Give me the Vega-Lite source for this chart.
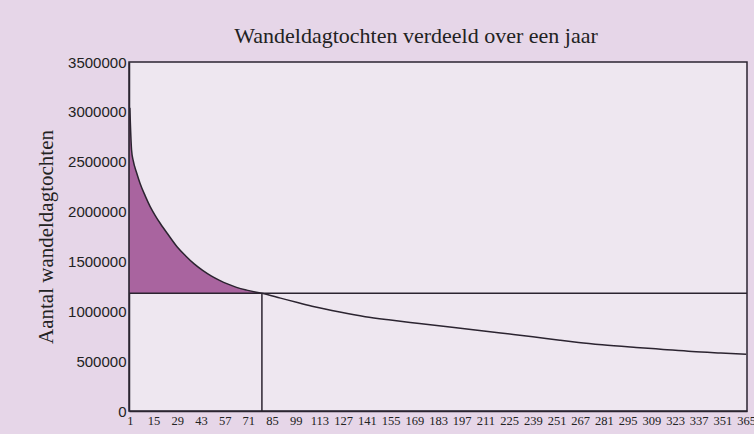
{
  "$schema": "https://vega.github.io/schema/vega-lite/v6.json",
  "width": 618,
  "height": 349,
  "autosize": {"type": "none"},
  "padding": {"left": 129, "top": 62, "right": 7, "bottom": 23},
  "background": "#e6d6e8",
  "title": {
    "text": "Wandeldagtochten verdeeld over een jaar",
    "font": "Liberation Serif",
    "fontSize": 22,
    "fontWeight": "normal",
    "color": "#222222",
    "offset": 7,
    "dx": -22
  },
  "config": {
    "view": {"fill": "#eee7f0", "stroke": "#2b2430", "strokeWidth": 1.5},
    "axisX": {
      "grid": false,
      "ticks": false,
      "domain": true,
      "domainColor": "#2b2430",
      "domainWidth": 1.5,
      "labelFont": "Liberation Serif",
      "labelFontSize": 12.5,
      "labelColor": "#222222",
      "labelPadding": 3,
      "labelOverlap": false,
      "labelFlush": false,
      "labelBound": false
    },
    "axisY": {
      "grid": false,
      "ticks": false,
      "domain": true,
      "domainColor": "#2b2430",
      "domainWidth": 1.5,
      "labelFont": "Liberation Sans",
      "labelFontSize": 15,
      "labelColor": "#222222",
      "labelPadding": 3,
      "labelOverlap": false,
      "titleFont": "Liberation Serif",
      "titleFontSize": 21,
      "titleFontWeight": "normal",
      "titleColor": "#222222",
      "titlePadding": 11
    }
  },
  "datasets": {
    "curve": [
      {"dag": 1, "aantal": 3040000},
      {"dag": 2, "aantal": 2620000},
      {"dag": 3, "aantal": 2510000},
      {"dag": 5, "aantal": 2390000},
      {"dag": 7, "aantal": 2285000},
      {"dag": 10, "aantal": 2160000},
      {"dag": 13, "aantal": 2050000},
      {"dag": 16, "aantal": 1960000},
      {"dag": 19, "aantal": 1880000},
      {"dag": 24, "aantal": 1760000},
      {"dag": 29, "aantal": 1645000},
      {"dag": 34, "aantal": 1555000},
      {"dag": 39, "aantal": 1475000},
      {"dag": 44, "aantal": 1410000},
      {"dag": 49, "aantal": 1355000},
      {"dag": 54, "aantal": 1310000},
      {"dag": 59, "aantal": 1272000},
      {"dag": 64, "aantal": 1240000},
      {"dag": 70, "aantal": 1212000},
      {"dag": 79, "aantal": 1180000},
      {"dag": 90, "aantal": 1132000},
      {"dag": 100, "aantal": 1088000},
      {"dag": 110, "aantal": 1045000},
      {"dag": 125, "aantal": 992000},
      {"dag": 140, "aantal": 946000},
      {"dag": 155, "aantal": 912000},
      {"dag": 172, "aantal": 878000},
      {"dag": 190, "aantal": 842000},
      {"dag": 205, "aantal": 812000},
      {"dag": 220, "aantal": 782000},
      {"dag": 239, "aantal": 745000},
      {"dag": 255, "aantal": 710000},
      {"dag": 266, "aantal": 688000},
      {"dag": 280, "aantal": 665000},
      {"dag": 300, "aantal": 638000},
      {"dag": 316, "aantal": 618000},
      {"dag": 333, "aantal": 597000},
      {"dag": 350, "aantal": 582000},
      {"dag": 365, "aantal": 570000}
    ],
    "gemiddelde": [
      {"dag": 79, "aantal": 1180000, "nul": 0}
    ]
  },
  "layer": [
    {
      "data": {"name": "curve"},
      "transform": [{"filter": "datum.dag <= 79"}],
      "mark": {"type": "area", "color": "#a9649f", "interpolate": "monotone"},
      "encoding": {
        "x": {
          "field": "dag",
          "type": "quantitative",
          "title": null,
          "scale": {"domain": [0.5, 365.5], "nice": false, "zero": false},
          "axis": {
            "values": [1, 15, 29, 43, 57, 71, 85, 99, 113, 127, 141, 155, 169, 183, 197, 211, 225, 239, 253, 267, 281, 295, 309, 323, 337, 351, 365],
            "tickCount": 40,
            "format": "d",
            "labelOverlap": false,
            "labelExpr": "datum.value == 253 ? '251' : datum.label"
          }
        },
        "y": {
          "field": "aantal",
          "type": "quantitative",
          "title": "Aantal wandeldagtochten",
          "scale": {"domain": [0, 3500000], "nice": false},
          "axis": {
            "values": [0, 500000, 1000000, 1500000, 2000000, 2500000, 3000000, 3500000],
            "tickCount": 10,
            "format": "d",
            "labelOverlap": false
          }
        },
        "y2": {"datum": 1180000}
      }
    },
    {
      "data": {"name": "curve"},
      "mark": {"type": "line", "color": "#2b2430", "strokeWidth": 1.5, "interpolate": "monotone"},
      "encoding": {
        "x": {"field": "dag", "type": "quantitative", "title": null},
        "y": {"field": "aantal", "type": "quantitative", "title": "Aantal wandeldagtochten"}
      }
    },
    {
      "data": {"name": "gemiddelde"},
      "mark": {"type": "rule", "color": "#2b2430", "strokeWidth": 1.5},
      "encoding": {
        "y": {"field": "aantal", "type": "quantitative", "title": "Aantal wandeldagtochten"}
      }
    },
    {
      "data": {"name": "gemiddelde"},
      "mark": {"type": "rule", "color": "#2b2430", "strokeWidth": 1.5},
      "encoding": {
        "x": {"field": "dag", "type": "quantitative", "title": null},
        "y": {"field": "nul", "type": "quantitative", "title": "Aantal wandeldagtochten"},
        "y2": {"field": "aantal"}
      }
    }
  ]
}
